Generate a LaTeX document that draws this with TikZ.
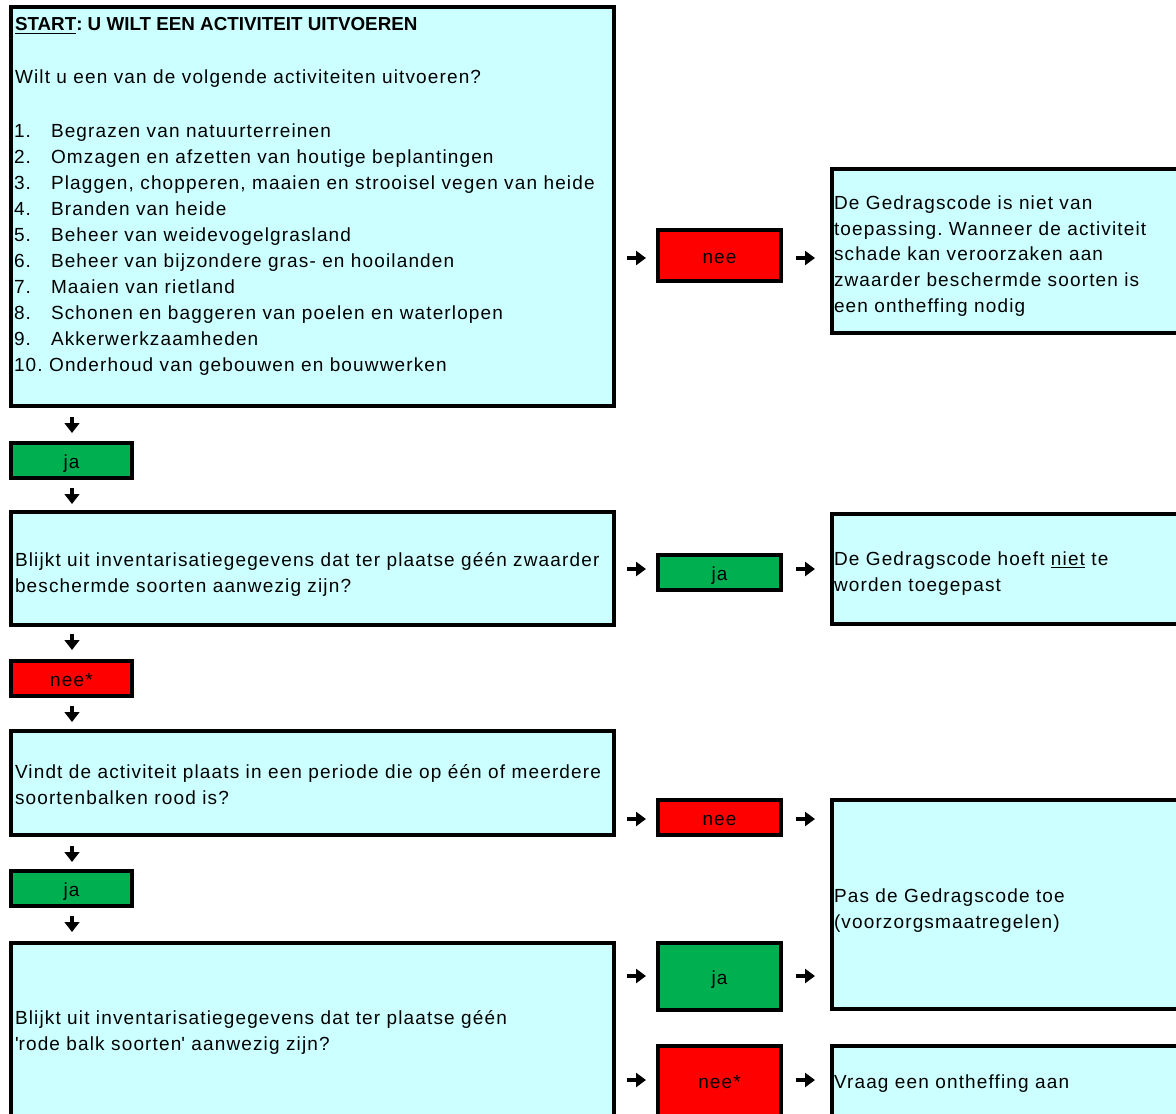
\documentclass[tikz,border=0pt]{standalone}
\usepackage{fontspec}
\setmainfont{Liberation Sans}
\newfontfamily\bodyfont[LetterSpace=6]{Liberation Sans}
\usetikzlibrary{arrows.meta,fit}
\definecolor{boxcyan}{HTML}{CCFFFF}
\definecolor{boxgreen}{HTML}{00B050}
\definecolor{boxred}{HTML}{FF0000}
\newcommand{\bodysize}{\bodyfont\fontsize{14.25pt}{17pt}\selectfont}
\frenchspacing
\begin{document}
\begin{tikzpicture}[x=0.75pt,y=-0.75pt,
  box/.style={draw=black, line width=3pt, fill=boxcyan, rectangle, inner sep=0pt, outer sep=0pt},
  smallbox/.style={box, font=\bodysize, text height=12pt, text depth=0pt, minimum width=92.25pt},
  jabox/.style={smallbox, fill=boxgreen},
  neebox/.style={smallbox, fill=boxred},
  txt/.style={anchor=base west, inner sep=0pt, outer sep=0pt, font=\bodysize},
  arr/.style={line width=3pt, -{Triangle[length=7.5pt,width=10.5pt]}},
  darr/.style={line width=3pt, -{Triangle[length=7.5pt,width=11pt]}},
]
\useasboundingbox (0,0) rectangle (1176,1113);
\clip (0,0) rectangle (1176,1113);

% ---- left column boxes
\node[box, fit={(11,7) (614,406)}] (start) {};
\node[jabox, minimum width=90.75pt, minimum height=26.25pt] (ja1) at (71.5,460.5) {ja};
\node[box, fit={(11,512) (614,625)}] (q2) {};
\node[neebox, minimum width=90.75pt, minimum height=26.25pt] (nee1) at (71.5,678.5) {nee*};
\node[box, fit={(11,731) (614,835)}] (q3) {};
\node[jabox, minimum width=90.75pt, minimum height=26.25pt] (ja2) at (71.5,888.5) {ja};
\node[box, fit={(11,943) (614,1130)}] (q4) {};

% ---- answer boxes
\node[neebox, minimum height=38.25pt] (nee2) at (719.5,255.5) {nee};
\node[jabox, minimum height=26.25pt] (ja3) at (719.5,572.5) {ja};
\node[neebox, minimum height=26.25pt] (nee3) at (719.5,817.5) {nee};
\node[jabox, minimum height=50.25pt] (ja4) at (719.5,976.5) {ja};
\node[neebox, minimum height=54pt, text height=9pt] (nee4) at (719.5,1082) {nee*};

% ---- right column boxes
\node[box, fit={(832,169) (1190,333)}] (r1) {};
\node[box, fit={(832,514) (1190,624)}] (r2) {};
\node[box, fit={(832,800) (1190,1009)}] (r3) {};
\node[box, fit={(832,1046) (1190,1130)}] (r4) {};

% ---- texts of the start box
\node[txt, font=\bfseries\fontsize{14.1pt}{17pt}\selectfont] (title) at (15,31) {\underline{START}: U WILT EEN ACTIVITEIT UITVOEREN};
\node[txt] (q1) at (15,84) {Wilt u een van de volgende activiteiten uitvoeren?};
\foreach \t [count=\k] in {Begrazen van natuurterreinen, Omzagen en afzetten van houtige beplantingen, {Plaggen, chopperen, maaien en strooisel vegen van heide}, Branden van heide, Beheer van weidevogelgrasland, Beheer van bijzondere gras- en hooilanden, Maaien van rietland, Schonen en baggeren van poelen en waterlopen, Akkerwerkzaamheden}{
  \node[txt] (num\k) at (14,{137+26*(\k-1)}) {\k.};
  \node[txt] (item\k) at (51,{137+26*(\k-1)}) {\t};
}
\node[txt] (item10) at (14,371) {10. Onderhoud van gebouwen en bouwwerken};

% ---- question texts
\node[txt] (q2a) at (15,566) {Blijkt uit inventarisatiegegevens dat ter plaatse géén zwaarder};
\node[txt] (q2b) at (15,592) {beschermde soorten aanwezig zijn?};
\node[txt] (q3a) at (15,778) {Vindt de activiteit plaats in een periode die op één of meerdere};
\node[txt] (q3b) at (15,804) {soortenbalken rood is?};
\node[txt] (q4a) at (15,1024) {Blijkt uit inventarisatiegegevens dat ter plaatse géén};
\node[txt] (q4b) at (15,1050) {\textquotesingle rode balk soorten\textquotesingle\ aanwezig zijn?};

% ---- outcome texts
\node[txt] (r1a) at (834,209) {De Gedragscode is niet van};
\node[txt] (r1b) at (834,235) {toepassing. Wanneer de activiteit};
\node[txt] (r1c) at (834,260) {schade kan veroorzaken aan};
\node[txt] (r1d) at (834,286) {zwaarder beschermde soorten is};
\node[txt] (r1e) at (834,312) {een ontheffing nodig};
\node[txt] (r2a) at (834,565) {De Gedragscode hoeft \underline{niet} te};
\node[txt] (r2b) at (834,591) {worden toegepast};
\node[txt] (r3a) at (834,902) {Pas de Gedragscode toe};
\node[txt] (r3b) at (834,928) {(voorzorgsmaatregelen)};
\node[txt] (r4a) at (834,1088) {Vraag een ontheffing aan};

% ---- down arrows
\coordinate (d1s) at (72,417); \coordinate (d1e) at (72,433);
\coordinate (d2s) at (72,488); \coordinate (d2e) at (72,504);
\coordinate (d3s) at (72,634); \coordinate (d3e) at (72,650);
\coordinate (d4s) at (72,706); \coordinate (d4e) at (72,722);
\coordinate (d5s) at (72,846); \coordinate (d5e) at (72,862);
\coordinate (d6s) at (72,916); \coordinate (d6e) at (72,932);
\foreach \i in {1,...,6}{\draw[darr] (d\i s) -- (d\i e);}

% ---- right arrows
\foreach \i/\y in {1/258,2/569,3/819,4/976,5/1080}{
  \coordinate (la\i s) at (627,\y); \coordinate (la\i e) at (646,\y);
  \coordinate (ra\i s) at (796,\y); \coordinate (ra\i e) at (815,\y);
  \draw[arr] (la\i s) -- (la\i e);
  \draw[arr] (ra\i s) -- (ra\i e);
}
\end{tikzpicture}
\end{document}
